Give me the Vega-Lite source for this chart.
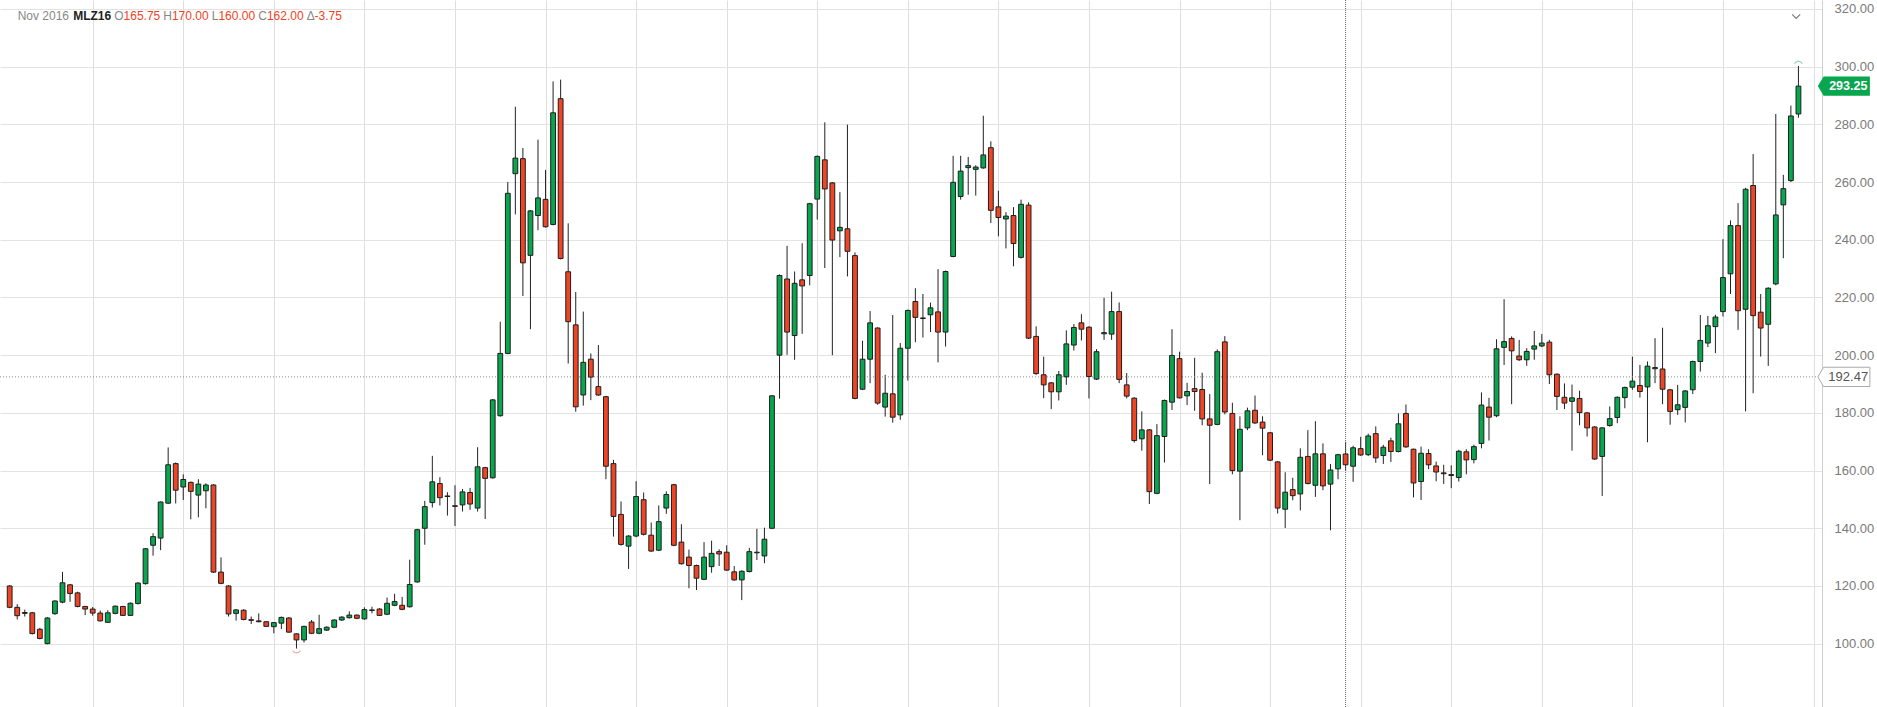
{
"$schema": "https://vega.github.io/schema/vega-lite/v6.json",
"width": 1822, "height": 707,
"autosize": {"type": "none"},
"padding": {"left": 0, "top": 0, "right": 55, "bottom": 0},
"background": "white",
"config": {"view": {"stroke": null}, "font": "Liberation Sans"},
"data": {"values": [{}]},
"datasets": {"candles": [
{"n":1,"o":120,"h":120.3,"l":112.3,"c":112.6},
{"n":2,"o":112.6,"h":113.7,"l":108.4,"c":109.7},
{"n":3,"o":110.8,"h":111.8,"l":109.4,"c":110.5},
{"n":4,"o":110.7,"h":111,"l":103.2,"c":103.5},
{"n":5,"o":105,"h":105.5,"l":101.5,"c":101.8},
{"n":6,"o":100,"h":109.2,"l":99.8,"c":108.9},
{"n":7,"o":110.4,"h":115,"l":110,"c":114.8},
{"n":8,"o":114.4,"h":124.9,"l":114,"c":121.1},
{"n":9,"o":120.4,"h":120.7,"l":114.5,"c":117.4},
{"n":10,"o":117.6,"h":118,"l":112.6,"c":112.9},
{"n":11,"o":112.9,"h":113.1,"l":109.9,"c":112},
{"n":12,"o":112,"h":112.7,"l":109.7,"c":110.6},
{"n":13,"o":110.6,"h":111.5,"l":107.7,"c":107.9},
{"n":14,"o":107.4,"h":111.6,"l":107.2,"c":110.7},
{"n":15,"o":110.5,"h":113.2,"l":110.2,"c":113},
{"n":16,"o":112.9,"h":113.1,"l":109.6,"c":109.8},
{"n":17,"o":109.8,"h":114.3,"l":109.6,"c":114},
{"n":18,"o":113.9,"h":121.3,"l":113.6,"c":121},
{"n":19,"o":120.8,"h":133.1,"l":120.5,"c":132.9},
{"n":20,"o":134.1,"h":138.3,"l":130.5,"c":137.1},
{"n":21,"o":136.6,"h":149.3,"l":132.4,"c":149.1},
{"n":22,"o":148.7,"h":168,"l":148.4,"c":162},
{"n":23,"o":162.4,"h":162.8,"l":148.6,"c":153.2},
{"n":24,"o":154.3,"h":158.7,"l":149.8,"c":156.9},
{"n":25,"o":155.9,"h":156.2,"l":143.1,"c":152.8},
{"n":26,"o":151.5,"h":157,"l":143.8,"c":155.3},
{"n":27,"o":153,"h":155.6,"l":146.9,"c":155},
{"n":28,"o":155,"h":155.3,"l":124.5,"c":124.8},
{"n":29,"o":124.8,"h":129.9,"l":120.6,"c":120.9},
{"n":30,"o":120,"h":120.3,"l":109.4,"c":110.3},
{"n":31,"o":110.5,"h":112,"l":108,"c":111.7},
{"n":32,"o":111.6,"h":111.9,"l":108.1,"c":108.4},
{"n":33,"o":108.3,"h":109.4,"l":106.8,"c":108.1},
{"n":34,"o":107.9,"h":110.5,"l":107.4,"c":107.6},
{"n":35,"o":107.6,"h":107.8,"l":105.8,"c":106},
{"n":36,"o":105.9,"h":107.5,"l":103.6,"c":107.3},
{"n":37,"o":107.1,"h":109.4,"l":105.1,"c":109.1},
{"n":38,"o":108.9,"h":109.2,"l":103.8,"c":104},
{"n":39,"o":103.4,"h":103.6,"l":98.3,"c":101.3},
{"n":40,"o":101.3,"h":106.2,"l":100.4,"c":106},
{"n":41,"o":107.5,"h":108.2,"l":103.3,"c":103.6},
{"n":42,"o":103.6,"h":110,"l":103.3,"c":105.2},
{"n":43,"o":104.7,"h":106,"l":104.4,"c":105.7},
{"n":44,"o":105.7,"h":108.4,"l":105.4,"c":108.2},
{"n":45,"o":108.2,"h":109.5,"l":107.9,"c":109.2},
{"n":46,"o":109,"h":111.2,"l":108.7,"c":109.9},
{"n":47,"o":109.9,"h":110.1,"l":108.5,"c":108.8},
{"n":48,"o":108.6,"h":112.6,"l":108.3,"c":111.8},
{"n":49,"o":111.5,"h":112.8,"l":110.5,"c":111.7},
{"n":50,"o":112,"h":112.3,"l":109.6,"c":109.8},
{"n":51,"o":110.2,"h":116,"l":109.9,"c":114},
{"n":52,"o":113.3,"h":117.3,"l":113,"c":114.6},
{"n":53,"o":113.3,"h":116.2,"l":111.6,"c":111.9},
{"n":54,"o":112.8,"h":129.1,"l":112.5,"c":120.5},
{"n":55,"o":121.4,"h":139.8,"l":121.1,"c":139.5},
{"n":56,"o":140,"h":149.5,"l":134.3,"c":147.5},
{"n":57,"o":148.9,"h":165.1,"l":147.2,"c":156.1},
{"n":58,"o":155.5,"h":157.7,"l":147.9,"c":150.6},
{"n":59,"o":151.2,"h":152.5,"l":144.4,"c":151},
{"n":60,"o":147.8,"h":154.9,"l":140.8,"c":147.6},
{"n":61,"o":148.1,"h":153.6,"l":145.8,"c":152.6},
{"n":62,"o":152.4,"h":154,"l":146.4,"c":148.4},
{"n":63,"o":147,"h":168.1,"l":145.8,"c":161.3},
{"n":64,"o":161,"h":161.3,"l":143.2,"c":157.3},
{"n":65,"o":157.5,"h":184.8,"l":157.2,"c":184.5},
{"n":66,"o":179,"h":211.6,"l":178.7,"c":200.6},
{"n":67,"o":200.6,"h":260,"l":200.3,"c":256.1},
{"n":68,"o":262.9,"h":286.1,"l":248.8,"c":268.3},
{"n":69,"o":268.1,"h":271.8,"l":220.5,"c":232},
{"n":70,"o":234.6,"h":250.3,"l":209,"c":250},
{"n":71,"o":248.4,"h":274.7,"l":243.3,"c":254.5},
{"n":72,"o":254,"h":264.2,"l":244.2,"c":244.5},
{"n":73,"o":245.3,"h":294.9,"l":245,"c":284},
{"n":74,"o":288.9,"h":295.5,"l":233.2,"c":233.5},
{"n":75,"o":228.9,"h":245.7,"l":197.1,"c":211.6},
{"n":76,"o":210.5,"h":221.9,"l":180.4,"c":182.1},
{"n":77,"o":186.2,"h":215.1,"l":182.5,"c":197.5},
{"n":78,"o":198.6,"h":200.6,"l":184.4,"c":192.4},
{"n":79,"o":189.1,"h":203.5,"l":185.9,"c":186.2},
{"n":80,"o":185.6,"h":185.9,"l":157,"c":161.5},
{"n":81,"o":162.4,"h":163.7,"l":137.1,"c":144.1},
{"n":82,"o":144.8,"h":149.3,"l":134,"c":134.4},
{"n":83,"o":133.8,"h":137.6,"l":125.9,"c":137.3},
{"n":84,"o":137.3,"h":156.3,"l":136.9,"c":151},
{"n":85,"o":149.9,"h":152.4,"l":137.5,"c":137.9},
{"n":86,"o":137.6,"h":142,"l":131.8,"c":132.1},
{"n":87,"o":132.4,"h":147.9,"l":132.1,"c":142.3},
{"n":88,"o":147,"h":152.8,"l":145,"c":151.7},
{"n":89,"o":155.1,"h":155.4,"l":133.8,"c":134.1},
{"n":90,"o":135.2,"h":141.4,"l":127.4,"c":127.7},
{"n":91,"o":130,"h":132.6,"l":119.2,"c":127.1},
{"n":92,"o":127.1,"h":127.4,"l":118.6,"c":122.7},
{"n":93,"o":122.3,"h":135.2,"l":122,"c":130},
{"n":94,"o":126.7,"h":135.7,"l":124.6,"c":131.3},
{"n":95,"o":131.9,"h":132.7,"l":126.9,"c":131.1},
{"n":96,"o":131.7,"h":134.1,"l":125.2,"c":125.5},
{"n":97,"o":124.9,"h":126.9,"l":121.8,"c":122.1},
{"n":98,"o":122.1,"h":125.4,"l":115.1,"c":125.1},
{"n":99,"o":125,"h":133.2,"l":124.7,"c":131.9},
{"n":100,"o":131.5,"h":139.8,"l":129,"c":131.7},
{"n":101,"o":130.4,"h":140.2,"l":127.9,"c":136.2},
{"n":102,"o":140,"h":186.2,"l":139.7,"c":185.9},
{"n":103,"o":200,"h":228,"l":184.9,"c":227.6},
{"n":104,"o":226.4,"h":237.9,"l":200.1,"c":208},
{"n":105,"o":206.8,"h":229,"l":198.4,"c":224.9},
{"n":106,"o":226.1,"h":238.8,"l":207.4,"c":224},
{"n":107,"o":227.6,"h":252.8,"l":224.2,"c":252.5},
{"n":108,"o":254.1,"h":269.2,"l":247,"c":268.9},
{"n":109,"o":267.7,"h":280.7,"l":230.2,"c":257.6},
{"n":110,"o":259.7,"h":260,"l":200,"c":239.9},
{"n":111,"o":243.1,"h":256.5,"l":234,"c":244.3},
{"n":112,"o":243.8,"h":279.9,"l":227.3,"c":236},
{"n":113,"o":234.5,"h":235.6,"l":184.7,"c":185},
{"n":114,"o":188.2,"h":205,"l":187.9,"c":198.6},
{"n":115,"o":198.6,"h":215.3,"l":190.3,"c":211.2},
{"n":116,"o":209.4,"h":209.7,"l":182.8,"c":183.4},
{"n":117,"o":182,"h":193.2,"l":178.7,"c":186.8},
{"n":118,"o":186.6,"h":213.9,"l":176.6,"c":178.5},
{"n":119,"o":179.3,"h":204.2,"l":177.6,"c":202.4},
{"n":120,"o":202.4,"h":215.8,"l":191.2,"c":215.5},
{"n":121,"o":218.6,"h":223.2,"l":204.5,"c":213.1},
{"n":122,"o":212.9,"h":221.2,"l":206.1,"c":212.7},
{"n":123,"o":214,"h":218.2,"l":208,"c":216.4},
{"n":124,"o":215,"h":229.8,"l":197.5,"c":208},
{"n":125,"o":208,"h":229.3,"l":203,"c":229},
{"n":126,"o":234.2,"h":269.1,"l":233.9,"c":259.9},
{"n":127,"o":255,"h":269.1,"l":253.9,"c":263.8},
{"n":128,"o":265,"h":268.7,"l":255.6,"c":265.7},
{"n":129,"o":264.4,"h":265.8,"l":255.3,"c":265.2},
{"n":130,"o":264.9,"h":283,"l":264.6,"c":269.4},
{"n":131,"o":271.9,"h":274.1,"l":245.8,"c":250.2},
{"n":132,"o":251.4,"h":257,"l":241.2,"c":247.7},
{"n":133,"o":247.2,"h":249.6,"l":237,"c":248.2},
{"n":134,"o":248.4,"h":251.3,"l":230.8,"c":238.7},
{"n":135,"o":233.9,"h":253.9,"l":233.5,"c":252.3},
{"n":136,"o":252,"h":253,"l":205.6,"c":205.9},
{"n":137,"o":206.5,"h":210,"l":193.2,"c":193.6},
{"n":138,"o":193.2,"h":199.5,"l":185.1,"c":189.7},
{"n":139,"o":190.4,"h":190.7,"l":181.3,"c":187.3},
{"n":140,"o":187.3,"h":194.5,"l":184.3,"c":193.2},
{"n":141,"o":192.5,"h":208.6,"l":189.7,"c":203.9},
{"n":142,"o":203.5,"h":210.8,"l":201.6,"c":209.6},
{"n":143,"o":211.2,"h":214.2,"l":205.1,"c":209},
{"n":144,"o":209.7,"h":210,"l":185,"c":192.6},
{"n":145,"o":191.7,"h":202.1,"l":191.4,"c":201.2},
{"n":146,"o":207.4,"h":219.9,"l":205.3,"c":207.8},
{"n":147,"o":207.3,"h":222,"l":205.3,"c":215.1},
{"n":148,"o":215.1,"h":218.3,"l":190.3,"c":191.6},
{"n":149,"o":189.7,"h":193.8,"l":185,"c":185.8},
{"n":150,"o":185.1,"h":185.4,"l":169.7,"c":170.4},
{"n":151,"o":171,"h":180.5,"l":166.9,"c":174.1},
{"n":152,"o":174.1,"h":174.4,"l":148.4,"c":152.7},
{"n":153,"o":152.1,"h":176.1,"l":151.8,"c":172.1},
{"n":154,"o":171.8,"h":184.6,"l":162.8,"c":184.3},
{"n":155,"o":183.7,"h":209,"l":181,"c":199.9},
{"n":156,"o":198.8,"h":201.2,"l":185,"c":185.2},
{"n":157,"o":185.9,"h":190.4,"l":182.7,"c":187.4},
{"n":158,"o":188.4,"h":199.1,"l":180.7,"c":187.4},
{"n":159,"o":188.1,"h":193.9,"l":175.7,"c":177.9},
{"n":160,"o":177.9,"h":186.5,"l":155.3,"c":175.7},
{"n":161,"o":176,"h":202,"l":175.7,"c":201.2},
{"n":162,"o":204.6,"h":206.6,"l":179.5,"c":180.3},
{"n":163,"o":179.8,"h":183.5,"l":158.7,"c":160},
{"n":164,"o":159.8,"h":178.8,"l":142.8,"c":174.3},
{"n":165,"o":174.8,"h":181.8,"l":174,"c":180.7},
{"n":166,"o":180.9,"h":186,"l":176.2,"c":176.5},
{"n":167,"o":176.8,"h":178.8,"l":165.3,"c":174.7},
{"n":168,"o":173.1,"h":173.4,"l":163.3,"c":163.6},
{"n":169,"o":163,"h":163.3,"l":145.1,"c":147},
{"n":170,"o":146.6,"h":159.4,"l":140.1,"c":152.5},
{"n":171,"o":153.4,"h":157.5,"l":149.7,"c":151.3},
{"n":172,"o":151.9,"h":167.7,"l":146.2,"c":164.6},
{"n":173,"o":164.9,"h":174,"l":155.2,"c":155.5},
{"n":174,"o":154.9,"h":177.1,"l":150.9,"c":165.8},
{"n":175,"o":165.8,"h":169.4,"l":153.2,"c":154.7},
{"n":176,"o":155.3,"h":162.3,"l":139.3,"c":160.2},
{"n":177,"o":160.6,"h":165.8,"l":157,"c":165.5},
{"n":178,"o":165.75,"h":170,"l":160,"c":162},
{"n":179,"o":161.5,"h":168.6,"l":156.1,"c":167.9},
{"n":180,"o":167.6,"h":171.7,"l":165.1,"c":165.4},
{"n":181,"o":165.5,"h":172.8,"l":165,"c":172},
{"n":182,"o":172.8,"h":175.3,"l":162.7,"c":164.4},
{"n":183,"o":165.2,"h":168.9,"l":162.3,"c":168.1},
{"n":184,"o":170.3,"h":171.4,"l":163,"c":166.6},
{"n":185,"o":166.6,"h":179.8,"l":166.3,"c":176.2},
{"n":186,"o":179.8,"h":182.9,"l":167.9,"c":168.2},
{"n":187,"o":167.4,"h":167.6,"l":150.7,"c":155.7},
{"n":188,"o":156.2,"h":168.3,"l":149.8,"c":166},
{"n":189,"o":165.9,"h":167.4,"l":160.5,"c":162},
{"n":190,"o":161.6,"h":163.1,"l":156.3,"c":159.5},
{"n":191,"o":159.2,"h":162,"l":155.4,"c":158.9},
{"n":192,"o":158.6,"h":161.8,"l":153.9,"c":158.3},
{"n":193,"o":157.6,"h":167.2,"l":156.2,"c":166.7},
{"n":194,"o":166.5,"h":167.4,"l":158.7,"c":163.7},
{"n":195,"o":163.8,"h":169,"l":162.5,"c":168.3},
{"n":196,"o":169.4,"h":187.1,"l":167.7,"c":182.7},
{"n":197,"o":182,"h":185.2,"l":170.4,"c":178.5},
{"n":198,"o":179,"h":205.5,"l":178.5,"c":202.2},
{"n":199,"o":202.7,"h":219.4,"l":196.6,"c":204.7},
{"n":200,"o":205.8,"h":206.5,"l":183,"c":201.5},
{"n":201,"o":199.7,"h":205.3,"l":198,"c":198.4},
{"n":202,"o":198.4,"h":202.4,"l":196.3,"c":201.3},
{"n":203,"o":202.1,"h":208.4,"l":198.4,"c":203.2},
{"n":204,"o":203.2,"h":207.3,"l":202.8,"c":204.2},
{"n":205,"o":204.5,"h":205.3,"l":190,"c":193.2},
{"n":206,"o":193.4,"h":193.7,"l":181,"c":185.7},
{"n":207,"o":185.4,"h":190.2,"l":181.3,"c":183.4},
{"n":208,"o":184,"h":189.8,"l":166.9,"c":185.2},
{"n":209,"o":185,"h":187.7,"l":175.7,"c":180.1},
{"n":210,"o":180,"h":180.3,"l":171.8,"c":174.8},
{"n":211,"o":175.1,"h":175.4,"l":163.7,"c":164},
{"n":212,"o":164.9,"h":175,"l":151.2,"c":174.8},
{"n":213,"o":175.6,"h":182.2,"l":175.2,"c":178},
{"n":214,"o":178.4,"h":185.7,"l":176.4,"c":185.4},
{"n":215,"o":185.3,"h":189.1,"l":181.6,"c":188.8},
{"n":216,"o":188.9,"h":199.5,"l":188,"c":191},
{"n":217,"o":189.5,"h":196.6,"l":185.3,"c":187.4},
{"n":218,"o":189,"h":197.8,"l":169.8,"c":196.2},
{"n":219,"o":195.3,"h":205.9,"l":190.3,"c":195.7},
{"n":220,"o":195.2,"h":209.5,"l":183,"c":188.2},
{"n":221,"o":188,"h":188.3,"l":175.9,"c":180.5},
{"n":222,"o":181.1,"h":189.7,"l":179.3,"c":182.8},
{"n":223,"o":181.9,"h":187.9,"l":176.7,"c":187.6},
{"n":224,"o":188,"h":198.1,"l":186.5,"c":197.8},
{"n":225,"o":197.8,"h":213.9,"l":194.3,"c":205.1},
{"n":226,"o":204.2,"h":213.6,"l":202.8,"c":210.2},
{"n":227,"o":209.9,"h":214,"l":200.7,"c":213.2},
{"n":228,"o":215.1,"h":240.2,"l":213.4,"c":226.9},
{"n":229,"o":228.2,"h":246.7,"l":221.2,"c":244.9},
{"n":230,"o":244.9,"h":252.7,"l":208.8,"c":215.4},
{"n":231,"o":215.9,"h":258,"l":180.5,"c":257.5},
{"n":232,"o":258.8,"h":269.7,"l":186.8,"c":213.7},
{"n":233,"o":214.9,"h":221.2,"l":199.5,"c":209.4},
{"n":234,"o":210.7,"h":223.5,"l":196.3,"c":223.2},
{"n":235,"o":224.7,"h":283.6,"l":224.2,"c":248.6},
{"n":236,"o":252.1,"h":262.5,"l":233.6,"c":257.7},
{"n":237,"o":260.5,"h":286.5,"l":260,"c":282.9},
{"n":238,"o":283.6,"h":300.25,"l":282.3,"c":293.25}
]},
"layer": [
{"data": {"name": "candles"},
 "mark": {"type": "rule", "color": "#222222", "strokeWidth": 1},
 "encoding": {
  "x": {"field": "n", "type": "quantitative",
        "scale": {"domain": [0.381, 240.46], "nice": false, "zero": false},
        "axis": {"values": [12,24,36,48,60,72,84,96,108,120,132,144,156,168,180,192,204,216,228,240],
                 "grid": true, "gridColor": "#dedede", "gridWidth": 1, "labels": false, "ticks": false, "domain": false, "title": null}},
  "y": {"field": "l", "type": "quantitative",
        "scale": {"domain": [78.05, 323.1], "nice": false, "zero": false},
        "axis": {"orient": "right", "values": [100,120,140,160,180,200,220,240,260,280,300,320], "format": ".2f",
                 "grid": true, "gridColor": "#e3e3e3", "gridWidth": 1.2, "domainColor": "#cfcfcf", "domainWidth": 1,
                 "ticks": false, "labelPadding": 12, "labelFontSize": 13, "labelColor": "#7a7a7a",
                 "labelFont": "Liberation Sans", "labelFlush": false, "title": null}},
  "y2": {"field": "h"}
 }},
{"mark": {"type": "rule", "color": "#6a6a6a", "strokeWidth": 1, "strokeDash": [1, 1]},
 "encoding": {"x": {"datum": 178, "type": "quantitative"}}},
{"mark": {"type": "rule", "color": "#8a8a8a", "strokeWidth": 1, "strokeDash": [1, 2]},
 "encoding": {"y": {"datum": 192.47, "type": "quantitative"}}},
{"data": {"name": "candles"},
 "mark": {"type": "bar", "size": 4.8, "stroke": "#1e1e1e", "strokeWidth": 1},
 "encoding": {
  "x": {"field": "n", "type": "quantitative"},
  "y": {"field": "o", "type": "quantitative"},
  "y2": {"field": "c"},
  "color": {"condition": {"test": "datum.c >= datum.o", "value": "#08a64f"}, "value": "#ee4526"}
 }},
{"mark": {"type": "point", "shape": "M-1,0.45 Q0,-0.75 1,0.45", "filled": false, "stroke": "#55cc88", "strokeWidth": 1.2, "size": 64},
 "encoding": {"x": {"datum": 238, "type": "quantitative"}, "y": {"datum": 301.7, "type": "quantitative"}}},
{"mark": {"type": "point", "shape": "M-1,-0.45 Q0,0.75 1,-0.45", "filled": false, "stroke": "#f08a78", "strokeWidth": 1.2, "size": 64},
 "encoding": {"x": {"datum": 39, "type": "quantitative"}, "y": {"datum": 97, "type": "quantitative"}}},
{"mark": {"type": "point", "shape": "M-1,-0.5 L0,0.5 L1,-0.5", "filled": false, "stroke": "#444444", "strokeWidth": 1.2, "size": 64},
 "encoding": {"x": {"datum": 237.7, "type": "quantitative"}, "y": {"datum": 317.4, "type": "quantitative"}}},
{"mark": {"type": "point", "shape": "M-1,0 L-0.78,-0.37 L1,-0.37 L1,0.37 L-0.78,0.37 Z", "filled": true, "fill": "#08a64f", "strokeWidth": 0, "opacity": 1, "size": 2704},
 "encoding": {"x": {"datum": 244.02, "type": "quantitative"}, "y": {"datum": 293.25, "type": "quantitative"}}},
{"mark": {"type": "text", "text": "293.25", "color": "white", "fontWeight": "bold", "fontSize": 12.5, "align": "center", "baseline": "middle"},
 "encoding": {"x": {"datum": 244.6, "type": "quantitative"}, "y": {"datum": 293.25, "type": "quantitative"}}},
{"mark": {"type": "point", "shape": "M-1,0 L-0.78,-0.37 L1,-0.37 L1,0.37 L-0.78,0.37 Z", "filled": true, "fill": "white", "stroke": "#aaaaaa", "strokeWidth": 1, "opacity": 1, "size": 2704},
 "encoding": {"x": {"datum": 244.02, "type": "quantitative"}, "y": {"datum": 192.47, "type": "quantitative"}}},
{"mark": {"type": "text", "text": "192.47", "color": "#555555", "fontSize": 13, "align": "center", "baseline": "middle"},
 "encoding": {"x": {"datum": 244.6, "type": "quantitative"}, "y": {"datum": 192.47, "type": "quantitative"}}},
{"mark": {"type": "text", "text": "Nov 2016", "color": "#888888", "fontSize": 12, "align": "left", "baseline": "alphabetic"},
 "encoding": {"x": {"datum": 2.054, "type": "quantitative"}, "y": {"datum": 316.2, "type": "quantitative"}}},
{"mark": {"type": "text", "text": "MLZ16", "color": "#222222", "fontWeight": "bold", "fontSize": 12, "align": "left", "baseline": "alphabetic"},
 "encoding": {"x": {"datum": 9.41, "type": "quantitative"}, "y": {"datum": 316.2, "type": "quantitative"}}},
{"mark": {"type": "text", "text": "O", "color": "#888888", "fontSize": 12, "align": "left", "baseline": "alphabetic"},
 "encoding": {"x": {"datum": 14.85, "type": "quantitative"}, "y": {"datum": 316.2, "type": "quantitative"}}},
{"mark": {"type": "text", "text": "165.75", "color": "#f23f22", "fontSize": 12, "align": "left", "baseline": "alphabetic"},
 "encoding": {"x": {"datum": 16.09, "type": "quantitative"}, "y": {"datum": 316.2, "type": "quantitative"}}},
{"mark": {"type": "text", "text": "H", "color": "#888888", "fontSize": 12, "align": "left", "baseline": "alphabetic"},
 "encoding": {"x": {"datum": 21.36, "type": "quantitative"}, "y": {"datum": 316.2, "type": "quantitative"}}},
{"mark": {"type": "text", "text": "170.00", "color": "#f23f22", "fontSize": 12, "align": "left", "baseline": "alphabetic"},
 "encoding": {"x": {"datum": 22.5, "type": "quantitative"}, "y": {"datum": 316.2, "type": "quantitative"}}},
{"mark": {"type": "text", "text": "L", "color": "#888888", "fontSize": 12, "align": "left", "baseline": "alphabetic"},
 "encoding": {"x": {"datum": 27.78, "type": "quantitative"}, "y": {"datum": 316.2, "type": "quantitative"}}},
{"mark": {"type": "text", "text": "160.00", "color": "#f23f22", "fontSize": 12, "align": "left", "baseline": "alphabetic"},
 "encoding": {"x": {"datum": 28.66, "type": "quantitative"}, "y": {"datum": 316.2, "type": "quantitative"}}},
{"mark": {"type": "text", "text": "C", "color": "#888888", "fontSize": 12, "align": "left", "baseline": "alphabetic"},
 "encoding": {"x": {"datum": 33.93, "type": "quantitative"}, "y": {"datum": 316.2, "type": "quantitative"}}},
{"mark": {"type": "text", "text": "162.00", "color": "#f23f22", "fontSize": 12, "align": "left", "baseline": "alphabetic"},
 "encoding": {"x": {"datum": 35.08, "type": "quantitative"}, "y": {"datum": 316.2, "type": "quantitative"}}},
{"mark": {"type": "text", "text": "Δ", "color": "#888888", "fontSize": 12, "align": "left", "baseline": "alphabetic"},
 "encoding": {"x": {"datum": 40.35, "type": "quantitative"}, "y": {"datum": 316.2, "type": "quantitative"}}},
{"mark": {"type": "text", "text": "-3.75", "color": "#f23f22", "fontSize": 12, "align": "left", "baseline": "alphabetic"},
 "encoding": {"x": {"datum": 41.4, "type": "quantitative"}, "y": {"datum": 316.2, "type": "quantitative"}}}
]
}
